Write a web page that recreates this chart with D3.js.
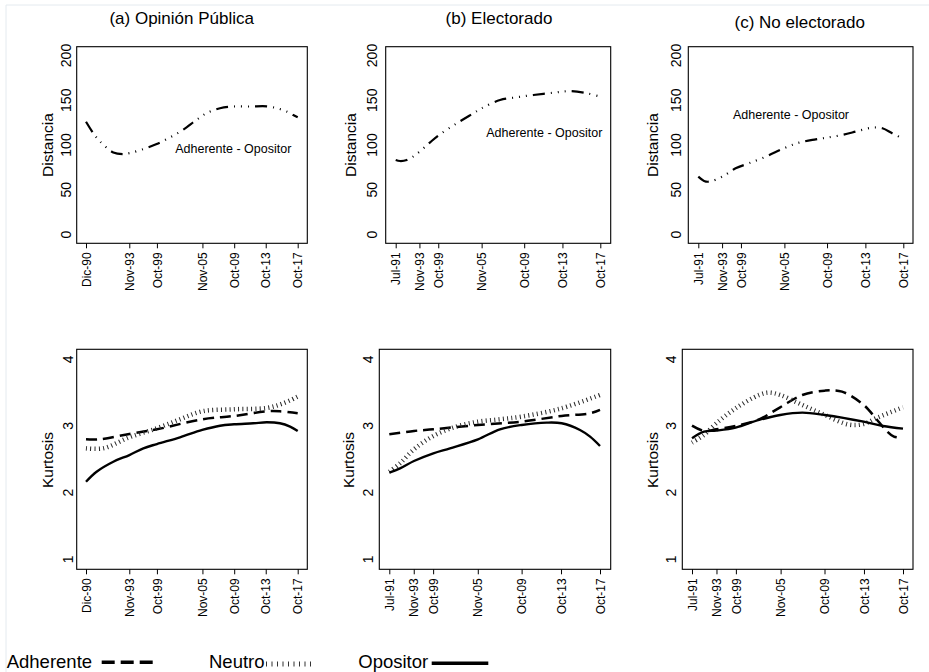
<!DOCTYPE html>
<html><head><meta charset="utf-8">
<script src="https://cdn.jsdelivr.net/npm/d3@7"></script>
<style>
body{margin:0;background:#fff}
svg{display:block}
text{font-family:"Liberation Sans",Arial,Helvetica,sans-serif;fill:#000}
</style>
</head><body>
<svg id="chart" width="929" height="672"></svg>
<script>
// ---------------- DATA ----------------
const panelTitles = ["(a) Opinión Pública", "(b) Electorado", "(c) No electorado"];
const tickLabelsA  = ["Dic-90","Nov-93","Oct-99","Nov-05","Oct-09","Oct-13","Oct-17"];
const tickLabelsBC = ["Jul-91","Nov-93","Oct-99","Nov-05","Oct-09","Oct-13","Oct-17"];
// survey position (index 0..100) of each labelled survey
const tickIdxA  = [0, 20.45, 33.5, 55.0, 70.0, 84.9, 100];
const tickIdxBC = [0, 11.6, 20.8, 42.0, 62.8, 81.5, 100];
const distTicks = [0, 50, 100, 150, 200];
const kurtTicks = [1, 2, 3, 4];
const distNote = "Adherente - Opositor";
const distTitle = "Distancia";
const kurtTitle = "Kurtosis";
const seriesNames = ["Adherente", "Neutro", "Opositor"];

// Distance Adherente - Opositor  [survey index, value]
const distOpinion = [[0,126],[3.5,113],[6.6,104],[12.9,91.7],[17.6,89.9],[20.8,91],[27.1,95.5],[33.4,101],[39.7,108.5],[46,117.2],[52.3,128.2],[57,135.6],[63.3,141.1],[69.6,143],[77.5,143],[85.4,143.2],[90.1,141.1],[94.8,137.4],[97.9,133.5],[100,131]];
const distElectorado = [[0,83.2],[2.1,82.1],[5.4,83.2],[10.3,90],[16.8,103],[21.7,112],[29.8,124.2],[37.9,135.4],[42,141],[51,150.3],[59.1,153.3],[67.3,155.9],[77,158.4],[85.2,160.2],[93.4,157.8],[100,154]];
const distNoElect = [[0,64.6],[2.8,59.8],[5.2,59],[11.7,64.6],[18.2,74],[24.7,79.6],[32.9,86.9],[41.7,96.3],[49.1,102.6],[57.3,106.3],[62.6,108.2],[70.2,111.2],[78.4,116],[84.9,119.4],[89.8,118.7],[94.6,113.1],[99,108]];

// Kurtosis
const kurtOpinionAdh = [[0,2.80],[6.6,2.80],[20.5,2.88],[33.5,2.95],[54.9,3.10],[70,3.15],[85.4,3.22],[91.6,3.22],[100,3.19]];
const kurtOpinionNeu = [[0,2.665],[8.2,2.665],[20.5,2.83],[33.5,2.965],[44.4,3.10],[54.9,3.22],[70,3.25],[85.4,3.27],[93.2,3.34],[100,3.44]];
const kurtOpinionOpo = [[0,2.164],[5,2.314],[12.9,2.464],[20.5,2.564],[27.1,2.665],[33.5,2.729],[44.4,2.83],[54.9,2.94],[63.3,3.004],[70,3.025],[79,3.04],[85.4,3.055],[91.6,3.04],[96.4,2.99],[100,2.924]];

const kurtElectAdh = [[0,2.875],[11.7,2.925],[20.9,2.95],[42.1,3.015],[62.8,3.065],[81.8,3.15],[95.3,3.19],[100,3.24]];
const kurtElectNeu = [[0,2.314],[5.1,2.44],[11.7,2.65],[20.9,2.85],[31.7,2.99],[42.1,3.064],[52.5,3.10],[62.8,3.14],[81.8,3.265],[100,3.465]];
const kurtElectOpo = [[0,2.30],[5.1,2.365],[11.7,2.475],[20.9,2.59],[28.8,2.665],[42.1,2.80],[52.5,2.95],[62.8,3.015],[74.7,3.05],[81.8,3.04],[90.5,2.94],[95.3,2.84],[100,2.70]];

const kurtNoElectAdh = [[0,3.004],[5.7,2.925],[11.5,2.95],[20.7,3.0],[31.8,3.10],[41.8,3.28],[52.3,3.465],[62.9,3.53],[71.1,3.515],[81.4,3.315],[87.1,3.115],[91.8,2.94],[95.7,2.84],[98.9,2.825]];
const kurtNoElectNeu = [[0,2.75],[5.7,2.865],[11.5,3.04],[20.7,3.265],[31.8,3.465],[36.5,3.50],[41.8,3.465],[52.3,3.315],[62.9,3.165],[74.4,3.02],[81.4,3.03],[87.1,3.115],[100,3.28]];
const kurtNoElectOpo = [[0,2.815],[5.7,2.914],[11.5,2.93],[20.7,2.975],[31.8,3.09],[41.8,3.165],[52.3,3.20],[62.9,3.165],[81.4,3.065],[90.5,3.0],[100,2.96]];

// ---------------- LAYOUT / STYLE ----------------
const cols = [
  {ticks: tickIdxA, labels: tickLabelsA, dist: distOpinion, kurt: [kurtOpinionAdh, kurtOpinionNeu, kurtOpinionOpo],
   title:{x:181.7, y:24},
   top:{x0:76.7, x1:307.3, r0:86, r1:297.7, labX:66.5, titX:47.7, noteX:233.3, noteY:152.5},
   bot:{x0:76.7, x1:307.3, r0:86, r1:297.7, labX:68.3, titX:47.3}},
  {ticks: tickIdxBC, labels: tickLabelsBC, dist: distElectorado, kurt: [kurtElectAdh, kurtElectNeu, kurtElectOpo],
   title:{x:499, y:23.5},
   top:{x0:385.7, x1:610.7, r0:395.7, r1:600.3, labX:372, titX:351, noteX:544.3, noteY:137},
   bot:{x0:379.3, x1:610.7, r0:389.3, r1:600, labX:368.3, titX:349}},
  {ticks: tickIdxBC, labels: tickLabelsBC, dist: distNoElect, kurt: [kurtNoElectAdh, kurtNoElectNeu, kurtNoElectOpo],
   title:{x:799.7, y:28},
   top:{x0:688.3, x1:913, r0:698.3, r1:903.3, labX:675.7, titX:652.7, noteX:791, noteY:118.5},
   bot:{x0:682.3, x1:913, r0:692, r1:903, labX:670.7, titX:652.7}}
];
const rows = {
  top:{y0:46.7, y1:243.3, domain:[0,200], range:[234.5,55.5], ticks:distTicks, title:distTitle, titY:145},
  bot:{y0:349.3, y1:569.3, domain:[1,4], range:[559.3,359.3], ticks:kurtTicks, title:kurtTitle, titY:460}
};
const seriesStyle = [
  {width:2.5, dash:"11,6", color:"#000"},
  {width:4.5, dash:"1,3.3", color:"#2a2a2a"},
  {width:2.4, dash:null, color:"#000"}
];
const distStyle = {width:2.2, dash:"12,6,1,6,1,6,1,6", color:"#000"};

const svg = d3.select("#chart");
svg.append("rect").attr("width",929).attr("height",672).attr("fill","#fff");
svg.append("path").attr("d","M6,672V5H929").attr("fill","none").attr("stroke","#e4eaef").attr("stroke-width",1);

function drawPanel(col, rowKey, series, styles) {
  const p = col[rowKey], r = rows[rowKey];
  const g = svg.append("g");
  const x = d3.scaleLinear().domain([0,100]).range([p.r0, p.r1]);
  const y = d3.scaleLinear().domain(r.domain).range(r.range);

  // frame
  g.append("rect").attr("x",p.x0).attr("y",r.y0).attr("width",p.x1-p.x0).attr("height",r.y1-r.y0)
    .attr("fill","none").attr("stroke","#000").attr("stroke-width",1.1);

  // x axis ticks and labels
  const xAxis = d3.axisBottom(x).tickValues(col.ticks).tickSize(5)
     .tickFormat((d,i)=>col.labels[i]);
  const ax = g.append("g").attr("transform",`translate(0,${r.y1})`).call(xAxis);
  ax.select(".domain").remove();
  ax.selectAll(".tick line").attr("stroke","#000").attr("stroke-width",1);
  ax.selectAll(".tick text")
    .attr("font-size","12px").attr("font-family",'"Liberation Sans",Arial,sans-serif')
    .attr("text-anchor","end").attr("x",0).attr("y",0).attr("dy","0.35em")
    .attr("transform","translate(0,9) rotate(-90)");

  // y tick labels (no tick marks)
  g.selectAll(".ylab").data(r.ticks).enter().append("text")
    .attr("transform",d=>`translate(${p.labX},${y(d)}) rotate(-90)`)
    .attr("text-anchor","middle").attr("dy","0.35em").attr("font-size","14px")
    .text(d=>d);

  // y title
  g.append("text").attr("transform",`translate(${p.titX},${r.titY}) rotate(-90)`)
    .attr("text-anchor","middle").attr("dy","0.35em").attr("font-size","15.5px").text(r.title);

  const line = d3.line().x(d=>x(d[0])).y(d=>y(d[1])).curve(d3.curveCatmullRom.alpha(0.5));
  series.forEach((s,i)=>{
    const st = styles[i];
    g.append("path").datum(s).attr("d",line).attr("fill","none")
      .attr("stroke",st.color).attr("stroke-width",st.width)
      .attr("stroke-dasharray",st.dash).attr("stroke-linecap","butt");
  });
  return {x,y,g};
}

cols.forEach((col,ci)=>{
  svg.append("text").attr("x",col.title.x).attr("y",col.title.y).attr("text-anchor","middle")
    .attr("font-size","17px").text(panelTitles[ci]);
  const t = drawPanel(col, "top", [col.dist], [distStyle]);
  t.g.append("text").attr("x",col.top.noteX).attr("y",col.top.noteY).attr("text-anchor","middle")
    .attr("font-size","12.5px").text(distNote);
  drawPanel(col, "bot", col.kurt, seriesStyle);
});

// legend
const legendPos = [
  {tx:6.7, lx0:101.7, lx1:153.3, ly:662.3},
  {tx:209, lx0:266, lx1:312, ly:664},
  {tx:358.3, lx0:431.7, lx1:488.3, ly:663.3}
];
const legendStyle = [
  {width:3.5, dash:"13,6", color:"#000"},
  {width:5, dash:"1,4.5", color:"#333"},
  {width:3.6, dash:null, color:"#000"}
];
const lg = svg.append("g");
seriesNames.forEach((name,i)=>{
  const p = legendPos[i], st = legendStyle[i];
  lg.append("text").attr("x",p.tx).attr("y",667.5).attr("font-size","18.5px").text(name);
  lg.append("line").attr("x1",p.lx0).attr("x2",p.lx1).attr("y1",p.ly).attr("y2",p.ly)
    .attr("stroke",st.color).attr("stroke-width",st.width).attr("stroke-dasharray",st.dash);
});
</script>
</body></html>
